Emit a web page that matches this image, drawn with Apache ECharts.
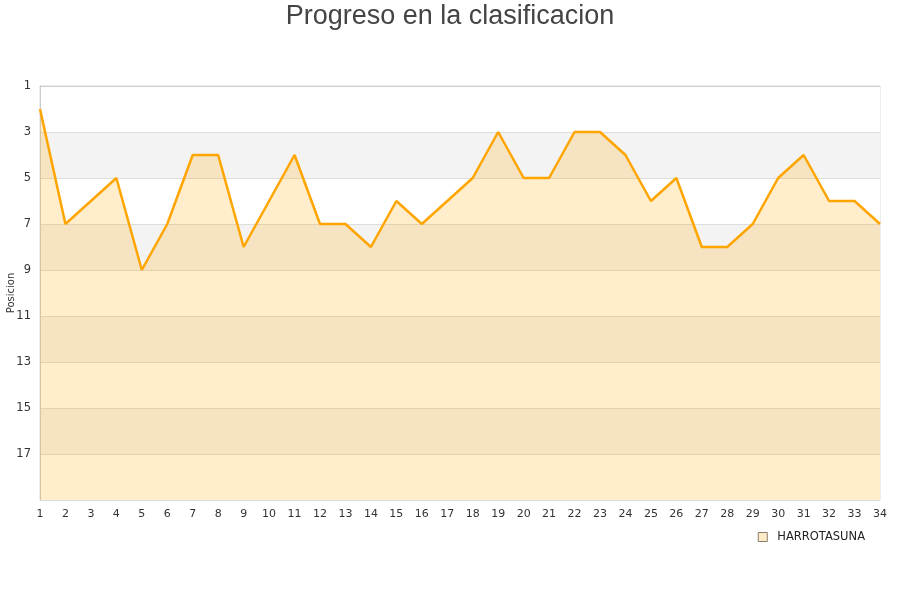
<!DOCTYPE html>
<html>
<head>
<meta charset="utf-8">
<script src="https://cdn.jsdelivr.net/npm/echarts@6/dist/echarts.min.js"></script>
<style>html,body{margin:0;padding:0;background:#fff}#c{width:900px;height:600px}</style>
</head>
<body>
<div id="c"></div>
<script>
var jornadas = ['1','2','3','4','5','6','7','8','9','10','11','12','13','14','15','16','17','18','19','20','21','22','23','24','25','26','27','28','29','30','31','32','33','34'];
var posiciones = [2,7,6,5,9,7,4,4,8,6,4,7,7,8,6,7,6,5,3,5,5,3,3,4,6,5,8,8,7,5,4,6,6,7];
var equipo = 'HARROTASUNA';
var titulo = 'Progreso en la clasificacion';
var ejeY = 'Posicion';
var primeraPos = 1, ultimaPos = 19;

var chart = echarts.init(document.getElementById('c'), null, {renderer: 'canvas'});
chart.setOption({
  animation: false,
  title: {
    text: titulo, left: 'center', top: 0, padding: [3, 5],
    textStyle: {fontFamily: 'Liberation Sans', fontSize: 27, fontWeight: 'normal', color: '#444'}
  },
  legend: {
    right: 30, top: 526, itemWidth: 9, itemHeight: 9, itemGap: 10,
    textStyle: {fontFamily: 'DejaVu Sans', fontSize: 11.5, color: '#222', padding: [0, 0, 0, 5]},
    data: [{name: equipo, icon: 'rect', itemStyle: {color: '#feecc9', borderColor: '#8a7f6e', borderWidth: 1}}]
  },
  grid: {left: 40, right: 20, top: 86, bottom: 100, show: true, borderColor: '#ddd', borderWidth: 1, containLabel: false, outerBoundsMode: 'none'},
  xAxis: {
    type: 'category', data: jornadas, boundaryGap: false,
    axisLine: {lineStyle: {color: '#ccc'}},
    axisTick: {show: false},
    axisLabel: {color: '#333', fontFamily: 'DejaVu Sans', fontSize: 11, margin: 9, interval: 0}
  },
  yAxis: {
    type: 'value', inverse: true, min: 0, max: ultimaPos - primeraPos, interval: 2,
    name: ejeY, nameLocation: 'middle', nameGap: 24, nameMoveOverlap: false,
    nameTextStyle: {fontFamily: 'DejaVu Sans', fontSize: 10, color: '#333'},
    axisLine: {show: true, lineStyle: {color: '#ccc'}},
    axisTick: {show: false},
    axisLabel: {
      color: '#333', fontFamily: 'DejaVu Sans', fontSize: 11.5, margin: 9,
      formatter: function (v) { var p = v + primeraPos; return p === ultimaPos ? '' : String(p); }
    },
    splitLine: {show: true, lineStyle: {color: '#ddd'}},
    splitArea: {show: true, areaStyle: {color: ['#ffffff', '#f3f3f3']}}
  },
  series: [{
    name: equipo, type: 'line',
    data: posiciones.map(function (p) { return p - primeraPos; }),
    showSymbol: false, symbol: 'none',
    lineStyle: {color: '#ffa500', width: 2.5},
    itemStyle: {color: '#feecc9', borderColor: '#8a7f6e'},
    areaStyle: {color: '#ffa500', opacity: 0.2, origin: 'end'}
  }]
});
</script>
</body>
</html>
